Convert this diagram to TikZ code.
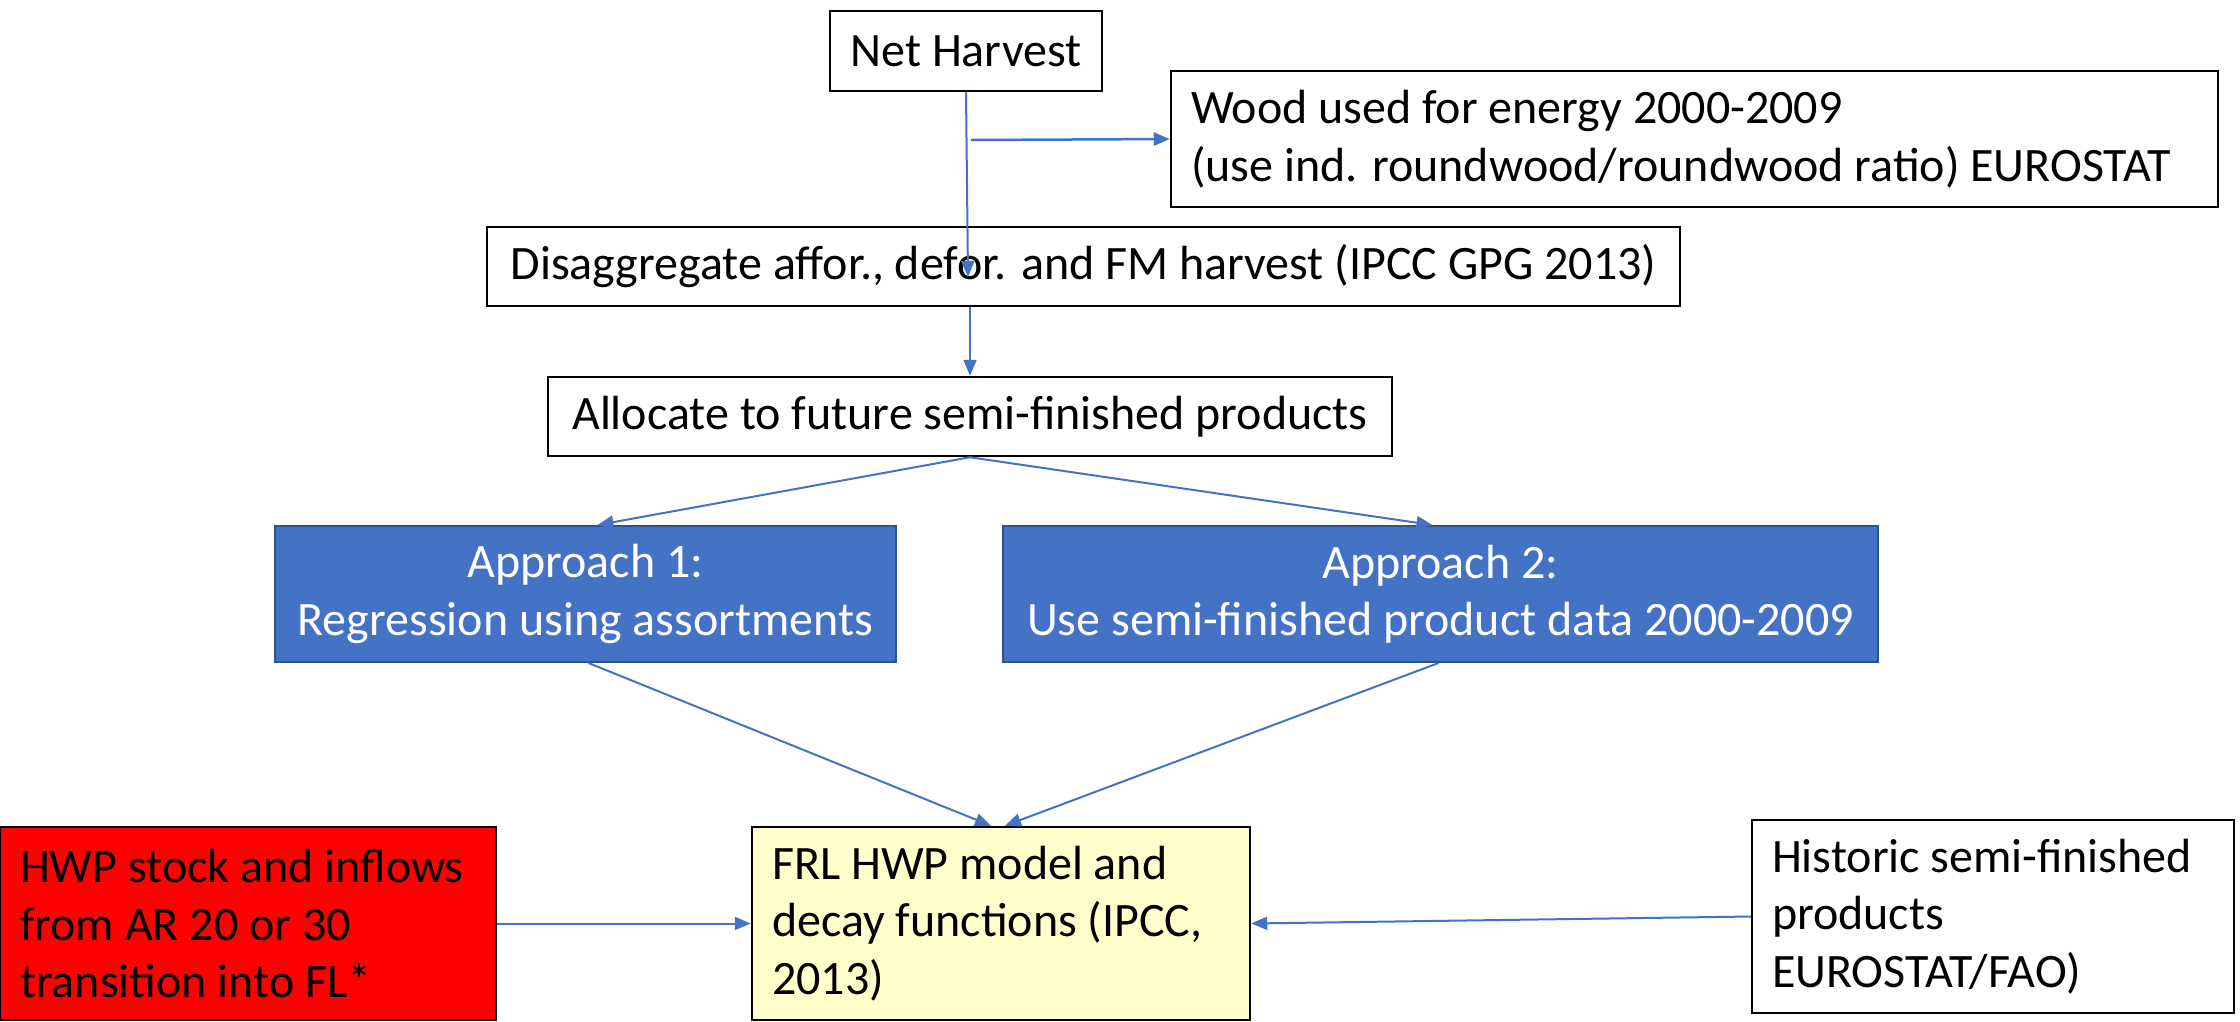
\documentclass[tikz,border=0pt]{standalone}
\usepackage{fontspec}
\setmainfont{Carlito}
\usetikzlibrary{arrows.meta}
\definecolor{arrowblue}{HTML}{4472C4}
\definecolor{boxblue}{HTML}{4472C4}
\definecolor{boxblueedge}{HTML}{2F528F}
\definecolor{paleyellow}{HTML}{FFFFCC}
\begin{document}
\begin{tikzpicture}[x=1pt,y=-1pt,
  every node/.style={font=\fontsize{48}{57.5}\selectfont},
  plainbox/.style={draw=black,line width=2.5pt,fill=white,inner sep=0pt,align=center},
  leftbox/.style={draw=black,line width=2.5pt,inner xsep=20pt,inner ysep=0pt,align=flush left},
  bluebox/.style={draw=boxblueedge,line width=2pt,fill=boxblue,text=white,inner sep=0pt,align=center},
  conn/.style={draw=arrowblue,line width=2pt,-{Triangle[length=16pt,width=13pt]}}]
\useasboundingbox (0,0) rectangle (2240,1021);
\node[plainbox,minimum width=272pt,minimum height=80pt] (nh) at (966,51) {Net Harvest};
\node[leftbox,fill=white,text width=1007pt,minimum height=136pt] (wood) at (1694.5,139)
  {Wood used for energy 2000-2009\\(use ind. roundwood/roundwood ratio) EUROSTAT};
\node[plainbox,minimum width=1193pt,minimum height=79pt] (dis) at (1083.5,266.5)
  {Disaggregate affor., defor. and FM harvest (IPCC GPG 2013)};
\node[plainbox,minimum width=844pt,minimum height=79pt] (alloc) at (970,416.5)
  {Allocate to future semi-finished products};
\node[bluebox,minimum width=621pt,minimum height=136pt] (app1) at (585.5,594)
  {Approach 1:\\Regression using assortments};
\node[bluebox,minimum width=875pt,minimum height=136pt] (app2) at (1440.5,594)
  {Approach 2:\\Use semi-finished product data 2000-2009};
\node[leftbox,fill=red,text width=456pt,minimum height=193pt] (hwp) at (248,923.5)
  {HWP stock and inflows\\from AR 20 or 30\\transition into FL*};
\node[leftbox,fill=paleyellow,text width=458pt,minimum height=193pt] (frl) at (1001,923.5)
  {FRL HWP model and\\decay functions (IPCC,\\2013)};
\node[leftbox,fill=white,text width=442pt,minimum height=193pt] (hist) at (1993,916.5)
  {Historic semi-finished\\products\\EUROSTAT/FAO)};
\coordinate (nhend) at (968,277);
\coordinate (woodstart) at (971,140);
\draw[conn] (nh.south) -- (nhend);
\draw[conn,line width=2.5pt] (woodstart) -- (wood.west);
\draw[conn] (alloc.north |- dis.south) -- (alloc.north);
\draw[conn] (alloc.south) -- ([xshift=12pt]app1.north);
\draw[conn] (alloc.south) -- ([xshift=-8pt]app2.north);
\draw[conn] ([xshift=3pt]app1.south) -- ([xshift=-10pt]frl.north);
\draw[conn] ([xshift=-2pt]app2.south) -- ([xshift=4pt]frl.north);
\draw[conn] (hwp.east) -- (frl.west);
\draw[conn] (hist.west) -- (frl.east);
\end{tikzpicture}
\end{document}
